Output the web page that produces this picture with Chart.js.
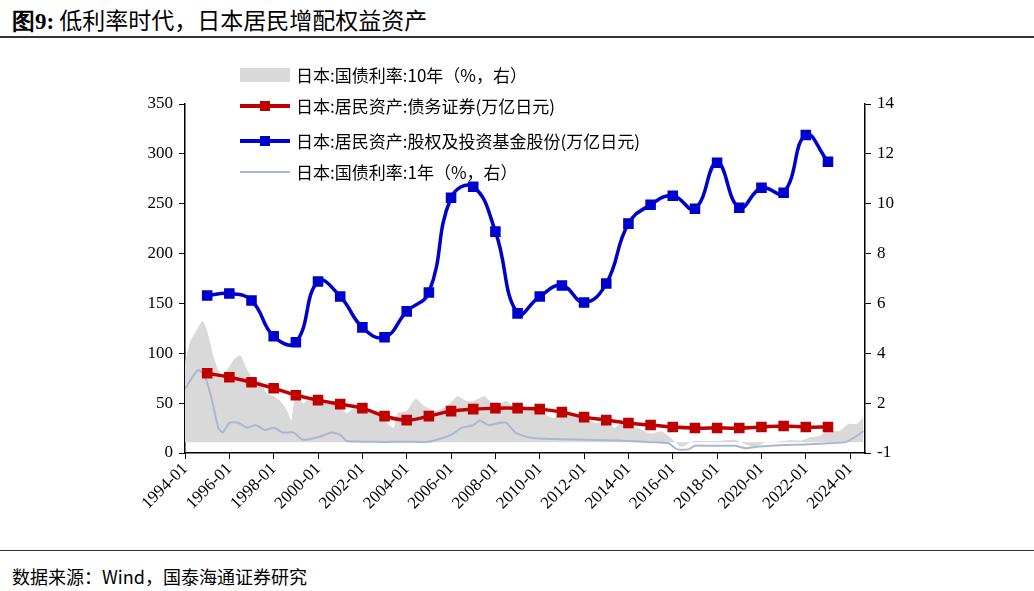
<!DOCTYPE html><html><head><meta charset="utf-8">
<script src="https://cdn.jsdelivr.net/npm/chart.js@4"></script>
<style>
body{margin:0;width:1034px;height:591px;background:#fff;position:relative;overflow:hidden;font-family:"Noto Sans CJK SC",sans-serif}
#t{position:absolute;left:12px;top:2px;font-size:23px;color:#000}
#l1{position:absolute;left:0;top:36px;width:1034px;height:2px;background:#333}
#l2{position:absolute;left:0;top:550px;width:1034px;height:1px;background:#333}
#s{position:absolute;left:12px;top:563px;font-size:18px}
#c{position:absolute;left:0;top:40px;width:1034px;height:508px}
.lg{position:absolute;left:240px;font-size:17px;height:24px;line-height:24px;white-space:nowrap}
.sym{display:inline-block;width:50px;height:24px;vertical-align:top;position:relative;margin-right:6px}
</style></head><body>
<div id="t"><b style="font-family:'Liberation Serif',serif">图9:</b> 低利率时代，日本居民增配权益资产</div>
<div id="l1"></div>
<div id="c"><canvas id="cv" width="1034" height="508"></canvas></div>
<div id="legend"></div>
<div id="l2"></div>
<div id="s">数据来源：Wind，国泰海通证券研究</div>
<script>
const years=[1995,1996,1997,1998,1999,2000,2001,2002,2003,2004,2005,2006,2007,2008,2009,2010,2011,2012,2013,2014,2015,2016,2017,2018,2019,2020,2021,2022,2023];
const bonds=[80,76,71,65,58,53,49,45,37,33,37,42,44,45,45,44,41,36,33,30,28,26,25,25,25,26,27,26,26];
const equity=[158,160,153,117,111,172,157,126,116,142,161,256,267,222,140,157,168,151,170,230,249,258,245,291,246,266,261,319,292];
const y10t=[1994.0,1994.25,1994.5,1994.8,1995.0,1995.3,1995.6,1995.9,1996.2,1996.5,1996.8,1997.1,1997.4,1997.7,1998.0,1998.3,1998.6,1998.8,1999.0,1999.3,1999.6,2000.0,2000.5,2001.0,2001.3,2001.6,2002.0,2002.5,2003.0,2003.4,2003.6,2004.0,2004.4,2004.8,2005.3,2005.8,2006.3,2006.7,2007.0,2007.5,2008.0,2008.5,2009.0,2009.5,2010.0,2010.6,2011.0,2011.5,2012.0,2012.5,2013.0,2013.4,2013.7,2014.0,2014.5,2015.0,2015.5,2016.0,2016.4,2016.9,2017.5,2018.0,2018.8,2019.3,2019.7,2020.2,2020.8,2021.3,2021.8,2022.2,2022.6,2023.0,2023.5,2023.9,2024.3,2024.6];
const y10v=[3.3,4.2,4.6,5.0,4.6,3.5,2.8,3.0,3.4,3.6,3.0,2.6,2.5,2.0,1.9,1.7,1.3,0.9,2.2,1.6,1.8,1.8,1.7,1.5,1.2,1.4,1.4,1.2,0.9,0.6,1.2,1.3,1.8,1.5,1.3,1.5,1.9,1.7,1.7,1.9,1.5,1.7,1.3,1.4,1.3,1.0,1.2,1.1,1.0,0.8,0.8,0.6,0.8,0.7,0.55,0.35,0.45,0.1,-0.2,0.05,0.05,0.05,0.1,-0.1,-0.2,0.0,0.03,0.08,0.07,0.2,0.25,0.5,0.45,0.75,0.75,1.05];
const y1t=[1994.0,1994.2,1994.6,1994.9,1995.2,1995.5,1995.7,1996.0,1996.4,1996.8,1997.2,1997.6,1998.0,1998.4,1998.9,1999.3,2000.0,2000.6,2001.0,2001.3,2002.0,2003.0,2004.0,2005.0,2006.0,2006.5,2007.0,2007.3,2007.7,2008.2,2008.5,2008.9,2009.5,2010.0,2011.0,2012.0,2013.0,2014.0,2015.0,2015.8,2016.2,2016.7,2017.0,2017.5,2018.0,2018.8,2019.3,2019.7,2020.5,2021.0,2022.0,2023.0,2023.8,2024.2,2024.6];
const y1v=[2.2,2.5,3.0,2.7,1.8,0.6,0.4,0.8,0.8,0.6,0.7,0.5,0.6,0.4,0.4,0.1,0.2,0.4,0.3,0.05,0.02,0.01,0.02,0.02,0.3,0.6,0.7,0.9,0.7,0.8,0.8,0.4,0.2,0.15,0.12,0.1,0.08,0.05,0.0,-0.05,-0.3,-0.3,-0.15,-0.15,-0.15,-0.15,-0.25,-0.2,-0.15,-0.12,-0.1,-0.05,0.0,0.2,0.45];
const leftTicks=[0,50,100,150,200,250,300,350];
const rightTicks=[0,2,4,6,8,10,12,14];
const rightLabels=['-1','2','4','6','8','10','12','14'];
const labels=['日本:国债利率:10年（%，右）','日本:居民资产:债务证券(万亿日元)','日本:居民资产:股权及投资基金股份(万亿日元)','日本:国债利率:1年（%，右）'];

const xy=(a,b)=>a.map((v,i)=>({x:v,y:b[i]}));
const tf={family:"'Liberation Serif',serif",size:17};
new Chart(document.getElementById('cv'),{
 type:'line',
 data:{datasets:[
  {label:labels[2],data:xy(years,equity),yAxisID:'y',borderColor:'#0000cc',backgroundColor:'#0000cc',borderWidth:3.5,pointStyle:'rect',pointRadius:5,tension:0.45,order:1},
  {label:labels[1],data:xy(years,bonds),yAxisID:'y',borderColor:'#c00000',backgroundColor:'#c00000',borderWidth:3.5,pointStyle:'rect',pointRadius:5,tension:0.4,order:2},
  {label:labels[3],data:xy(y1t,y1v),yAxisID:'yd',borderColor:'#a9b8cf',borderWidth:2,pointRadius:0,tension:0.2,order:3},
  {label:labels[0],data:xy(y10t,y10v),yAxisID:'yd',borderWidth:0,backgroundColor:'#d9d9d9',fill:{value:0},pointRadius:0,tension:0.2,order:4}
 ]},
 options:{responsive:false,animation:false,
  layout:{padding:{top:64,left:0,right:0,bottom:0}},
  plugins:{legend:{display:false},tooltip:{enabled:false}},
  scales:{
   x:{type:'linear',min:1994,max:2024.67,afterBuildTicks:s=>{s.ticks=[];for(let v=1994;v<=2024;v+=2)s.ticks.push({value:v});},
      ticks:{callback:v=>v+'-01',font:tf,color:'#000',minRotation:45,maxRotation:45,padding:0},
      grid:{drawOnChartArea:false,color:'#000',tickLength:6},border:{color:'#000',width:1.5},afterFit:s=>{s.height=95;}},
   y:{position:'left',min:0,max:350,afterBuildTicks:s=>{s.ticks=leftTicks.map(v=>({value:v}));},ticks:{font:tf,color:'#000',padding:6},
      grid:{drawOnChartArea:false,color:'#000',tickLength:6},border:{color:'#000',width:1.5},afterFit:s=>{s.width=185;}},
   yr:{position:'right',min:0,max:14,afterBuildTicks:s=>{s.ticks=rightTicks.map(v=>({value:v}));},ticks:{font:tf,color:'#000',padding:6,callback:(v,i)=>rightLabels[i]},
      grid:{drawOnChartArea:false,color:'#000',tickLength:6},border:{color:'#000',width:1.5},afterFit:s=>{s.width=169;}},
   yd:{position:'right',display:false,min:-0.45,max:14}
  }}
});
const lg=document.getElementById('legend');
const tops=[63,94,129,160];
const syms=[
 '<span style="position:absolute;left:0;top:5px;width:50px;height:14px;background:#d9d9d9"></span>',
 '<span style="position:absolute;left:0;top:10px;width:50px;height:3.5px;background:#c00000"></span><span style="position:absolute;left:20px;top:7px;width:10px;height:10px;background:#c00000"></span>',
 '<span style="position:absolute;left:0;top:10px;width:50px;height:3.5px;background:#0000cc"></span><span style="position:absolute;left:20px;top:7px;width:10px;height:10px;background:#0000cc"></span>',
 '<span style="position:absolute;left:0;top:11px;width:50px;height:2px;background:#a9b8cf"></span>'];
labels.forEach((t,i)=>{const d=document.createElement('div');d.className='lg';d.style.top=tops[i]+'px';d.innerHTML='<span class="sym">'+syms[i]+'</span>'+t;lg.appendChild(d);});
</script></body></html>
